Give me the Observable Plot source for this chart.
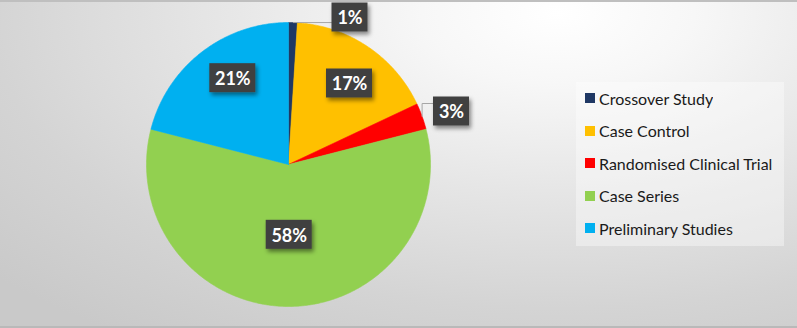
<!DOCTYPE html>
<html>
<head>
<meta charset="utf-8">
<script src="https://cdn.jsdelivr.net/npm/d3@7"></script>
<script src="https://cdn.jsdelivr.net/npm/@observablehq/plot@0.6"></script>
<style>
  html, body { margin: 0; padding: 0; background: #fff; }
  #chart {
    position: relative; width: 797px; height: 328px; overflow: hidden;
    background: radial-gradient(ellipse 95% 120% at 70% 4%, #ffffff 0%, #f7f7f7 18%, #e6e6e6 45%, #d4d4d4 75%, #c9c9c9 100%);
    box-shadow: inset 0 2px 0 #bfbfbf, inset 0 -2px 0 #b9b9b9;
    font-family: Lato, "Open Sans", sans-serif;
  }
  #chart > svg { position: absolute; left: 0; top: 0; }
  #legend { position: absolute; left: 576px; top: 82px; width: 208px; height: 164px; background: rgba(255,255,255,0.38); }
  #legend .lg-swatches { display: block !important; margin: 0 !important; padding: 0 0 0 9px !important; columns: auto !important; min-height: 0 !important; }
  #legend .lg-swatch { display: flex !important; align-items: center !important; height: 32.5px !important; margin: 0 !important; padding: 0 !important; font: 16px Lato, sans-serif !important; color: #1a1a1a !important; white-space: nowrap; }
  #legend .lg-swatch svg { margin-right: 4px !important; flex-shrink: 0; }
</style>
</head>
<body>
<div id="chart"><div id="legend"></div></div>
<script>
// ---- data ----
const categories = ["Crossover Study", "Case Control", "Randomised Clinical Trial", "Case Series", "Preliminary Studies"];
const shares = [1, 17, 3, 58, 21];
const labels = ["1%", "17%", "3%", "58%", "21%"];
const colors = ["#1F3864", "#FFC000", "#FF0000", "#92D050", "#00B0F0"];

// ---- layout (px, relative to pie centre, y up) ----
const R = 142;
const labelOffsets = [[61.5, 147], [61, 81], [163, 53], [0.7, -70.3], [-55.7, 86.3]];
const leaderElbow = [null, null, 61, null, null];

const total = d3.sum(shares);
let acc = 0;
const slices = categories.map((c, i) => {
  const a0 = acc / total * 2 * Math.PI;
  acc += shares[i];
  const a1 = acc / total * 2 * Math.PI;
  return {c, a0, a1, i};
});

const piePts = [];
for (const s of slices) {
  piePts.push({c: s.c, x: 0, y: 0});
  const n = Math.max(2, Math.ceil((s.a1 - s.a0) / (Math.PI / 360)));
  for (let k = 0; k <= n; k++) {
    const a = s.a0 + (s.a1 - s.a0) * k / n;
    piePts.push({c: s.c, x: R * Math.sin(a), y: R * Math.cos(a)});
  }
  piePts.push({c: s.c, x: 0, y: 0});
}

const boxes = labels.map((t, i) => ({
  t, c: categories[i], lx: labelOffsets[i][0], ly: labelOffsets[i][1], w: 16 + 10 * t.length
}));

const leaderPts = [];
boxes.forEach((b, i) => {
  if (Math.hypot(b.lx, b.ly) <= R) return;
  const s = slices[i], am = (s.a0 + s.a1) / 2;
  const ex = R * Math.sin(am), ey = R * Math.cos(am);
  const ay = leaderElbow[i] == null ? ey : leaderElbow[i];
  leaderPts.push({c: b.c, x: ex, y: ey});
  leaderPts.push({c: b.c, x: ex, y: ay});
  leaderPts.push({c: b.c, x: b.lx - b.w / 2, y: ay});
});

const plot = Plot.plot({
  width: 797, height: 328, margin: 0,
  x: {domain: [-288, 509], axis: null},
  y: {domain: [-164, 164], axis: null},
  color: {domain: categories, range: colors},
  style: {background: "transparent", fontFamily: "Lato, sans-serif", overflow: "visible"},
  marks: [
    Plot.line(piePts, {x: "x", y: "y", z: "c", fill: "c", stroke: "c", strokeWidth: 0.6, curve: "linear"}),
    Plot.line(leaderPts, {x: "x", y: "y", z: "c", stroke: "#a6a6a6", strokeWidth: 1, curve: "linear"}),
    Plot.rect(boxes, {x1: d => d.lx - d.w / 2, x2: d => d.lx + d.w / 2, y1: d => d.ly - 14.5, y2: d => d.ly + 14.5, fill: "#404040"}),
    Plot.text(boxes, {x: "lx", y: "ly", text: "t", fill: "white", fontSize: 18, fontWeight: "bold", dy: 1})
  ]
});

// soft drop shadow on label boxes
const svg = d3.select(plot);
const defs = svg.insert("defs", ":first-child");
const f = defs.append("filter").attr("id", "lblshadow").attr("x", "-30%").attr("y", "-30%").attr("width", "160%").attr("height", "160%");
f.append("feDropShadow").attr("dx", 2).attr("dy", 3).attr("stdDeviation", 2).attr("flood-color", "#000").attr("flood-opacity", 0.45);
svg.selectAll("g[aria-label='rect']").attr("filter", "url(#lblshadow)");

document.getElementById("chart").prepend(plot);
document.getElementById("legend").append(plot.legend("color", {legend: "swatches", columns: 1, swatchSize: 10, className: "lg"}));
</script>
</body>
</html>
